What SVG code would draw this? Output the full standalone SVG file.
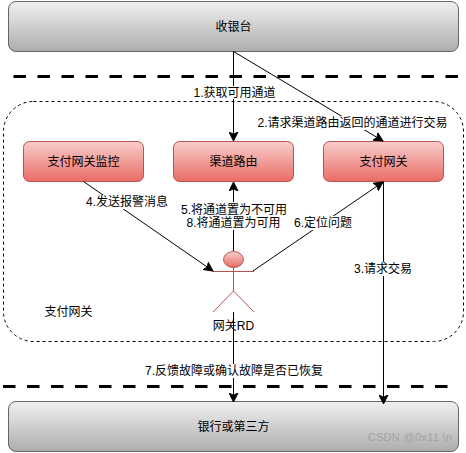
<svg xmlns="http://www.w3.org/2000/svg" width="466" height="453" viewBox="0 0 466 453">
<style>
text{font-family:"Liberation Sans","Noto Sans CJK SC",sans-serif;font-size:12px;fill:#000;text-anchor:middle}
.g{stroke:#666;stroke-width:1;fill:url(#gy)}
.r{stroke:#b85450;stroke-width:1;fill:url(#rd)}
.sep{fill:none;stroke:#000;stroke-width:3;stroke-dasharray:12.500 11.500}
.c{fill:none;stroke:#000;stroke-width:1;marker-end:url(#a)}
.p{fill:none;stroke:#b85450;stroke-width:1}
.bg{fill:#fff}
.wm{fill:#a3a3a3;font-size:11px;letter-spacing:.3px}
</style>
<defs>
<linearGradient id="gy" x1="0" y1="0" x2="0" y2="1"><stop offset="0" stop-color="#f0f0f0"/><stop offset="1" stop-color="#adadad"/></linearGradient>
<linearGradient id="rd" x1="0" y1="0" x2="0" y2="1"><stop offset="0" stop-color="#f8cecc"/><stop offset="1" stop-color="#ea6b66"/></linearGradient>
<marker id="a" markerUnits="userSpaceOnUse" markerWidth="10" markerHeight="10" viewBox="0 0 10 10" refX="9" refY="5" orient="auto"><path d="M0 0.500L9 5L0 9.500L2.200 5Z" fill="#000" stroke="#000" stroke-width="1"/></marker>
</defs>
<g id="sep-top"><path class="sep" d="M13.500 76.500H460"/></g>
<g id="sep-bottom"><path class="sep" d="M3 386.500H450"/></g>
<g id="group-gateway"><rect x="3.500" y="101.500" width="460" height="240" rx="30" fill="#fff" stroke="#000" stroke-dasharray="3 3"/><text x="68.500" y="316">支付网关</text></g>
<g id="node-cashier"><rect class="g" x="8.500" y="1.500" width="450" height="50" rx="7.500"/><text x="233.500" y="31">收银台</text></g>
<g id="node-bank"><rect class="g" x="8.500" y="401.500" width="450" height="50" rx="7.500"/><text x="233.500" y="431">银行或第三方</text></g>
<g id="node-monitor"><rect class="r" x="23.500" y="141.500" width="120" height="40" rx="6"/><text x="83.500" y="166">支付网关监控</text></g>
<g id="node-router"><rect class="r" x="173.500" y="141.500" width="120" height="40" rx="6"/><text x="233.500" y="166">渠道路由</text></g>
<g id="node-gateway"><rect class="r" x="323.500" y="141.500" width="120" height="40" rx="6"/><text x="383.500" y="166">支付网关</text></g>
<g id="node-rd">
<ellipse cx="233.500" cy="259.500" rx="10" ry="8" fill="url(#rd)" stroke="#b85450"/>
<path class="p" d="M233.500 267.500V291M213 271.500H254M213 312L233.500 291L254 312"/>
<text x="233.500" y="330">网关RD</text>
</g>
<g id="connectors">
<path class="c" d="M233.500 51.500V141"/>
<path class="c" d="M233.500 51.500L383 141"/>
<path class="c" d="M383.500 182V404"/>
<path class="c" d="M83.500 181.500L213 271"/>
<path class="c" d="M233.500 251V182"/>
<path class="c" d="M253 271L383 182"/>
<path class="c" d="M233.500 312V402"/>
</g>
<g id="labels">
<rect class="bg" x="194" y="86" width="81" height="13"/><text x="234.500" y="97">1.获取可用通道</text>
<rect class="bg" x="258" y="116" width="189" height="14"/><text x="352.500" y="127">2.请求渠道路由返回的通道进行交易</text>
<rect class="bg" x="354" y="262" width="58" height="14"/><text x="383" y="273">3.请求交易</text>
<rect class="bg" x="86" y="195" width="82" height="14"/><text x="127" y="206">4.发送报警消息</text>
<rect class="bg" x="181" y="202" width="106" height="28"/><text x="234" y="213.500">5.将通道置为不可用</text><text x="233.500" y="227">8.将通道置为可用</text>
<rect class="bg" x="295" y="216" width="57" height="14"/><text x="323" y="227">6.定位问题</text>
<rect class="bg" x="145" y="364" width="178" height="14"/><text x="234" y="375">7.反馈故障或确认故障是否已恢复</text>
</g>
<text class="wm" x="410" y="441">CSDN @0x11 \n</text>
</svg>
